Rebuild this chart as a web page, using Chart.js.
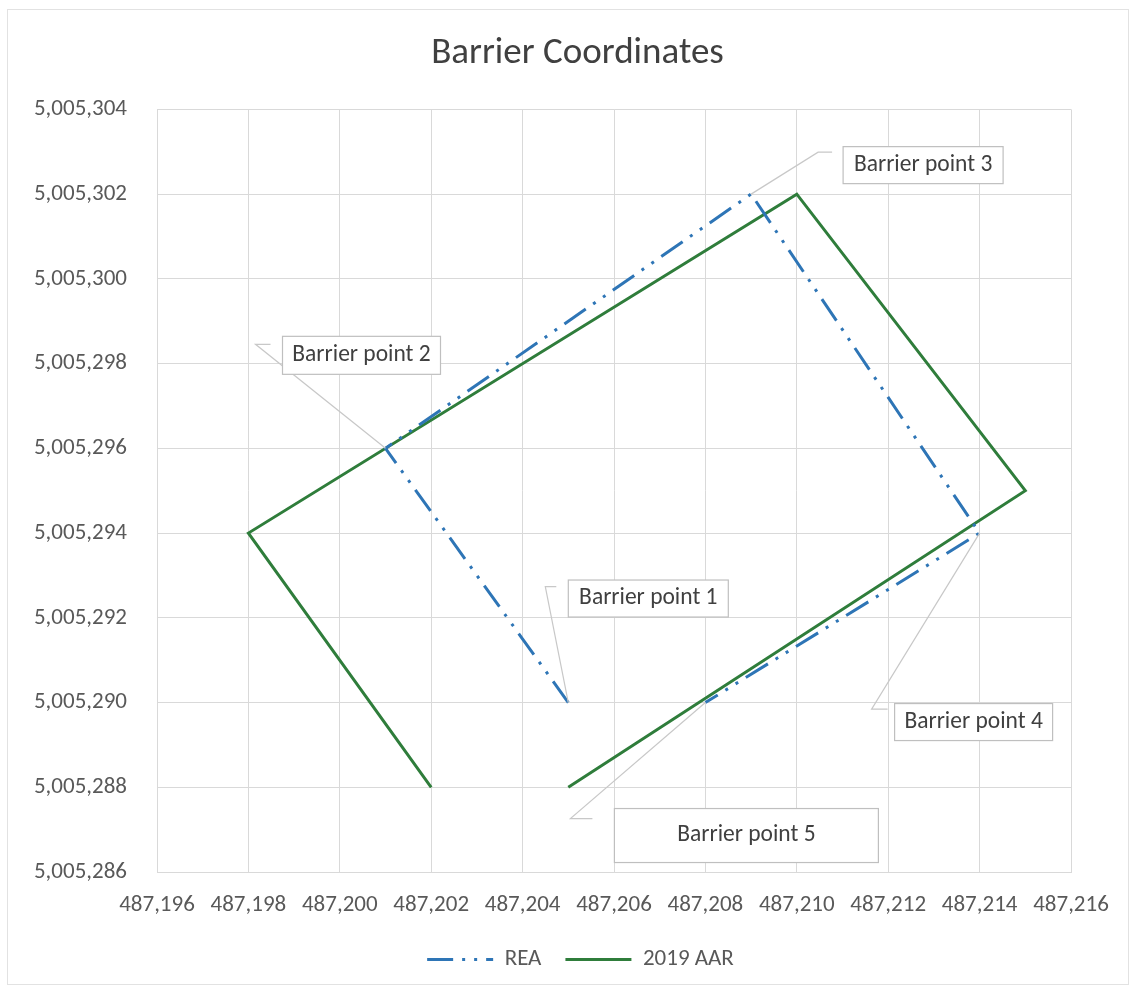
<!DOCTYPE html>
<html>
<head>
<meta charset="utf-8">
<script src="https://cdn.jsdelivr.net/npm/chart.js@4.4.1/dist/chart.umd.min.js"></script>
<style>
	body { margin: 0; background: #fff; }
	#wrap { width: 1135px; height: 990px; }
</style>
</head>
<body>
<div id="wrap"><canvas id="barrierChart" width="1135" height="990"></canvas></div>
<script>
// series data (easting, northing)
const reaX = [487205, 487201, 487209, 487214, 487208];
const reaY = [5005290, 5005296, 5005302, 5005294, 5005290];
const aarX = [487202, 487198, 487210, 487215, 487205];
const aarY = [5005288, 5005294, 5005302, 5005295, 5005288];

const xTicks = [487196, 487198, 487200, 487202, 487204, 487206, 487208, 487210, 487212, 487214, 487216];
const yTicks = [5005286, 5005288, 5005290, 5005292, 5005294, 5005296, 5005298, 5005300, 5005302, 5005304];

const pointLabels = ['Barrier point 1', 'Barrier point 2', 'Barrier point 3', 'Barrier point 4', 'Barrier point 5'];

// callout placement relative to the REA point (px): box centre, box size, leader elbow
const calloutLayout = [
	{ cx: 80, cy: -104, w: 160, h: 37, ex: -23, ey: -116, tx: -12 },
	{ cx: -24, cy: -93, w: 158, h: 38, ex: -130, ey: -104, tx: -115 },
	{ cx: 172, cy: -29, w: 160, h: 37, ex: 67, ey: -42, tx: 81 },
	{ cx: -6, cy: 189, w: 158, h: 37, ex: -108, ey: 176, tx: -92 },
	{ cx: 41, cy: 133, w: 264, h: 54, ex: -135, ey: 116, tx: -113 }
];

const toPoints = (xs, ys) => xs.map((x, i) => ({ x: x, y: ys[i] }));
const fmt = (v) => v.toLocaleString('en-US');

const FONT = "Carlito, Lato, 'Open Sans', sans-serif";

const calloutPlugin = {
	id: 'callouts',
	afterDatasetsDraw(chart) {
		let ctx = chart.ctx;
		let xs = chart.scales.x;
		let ys = chart.scales.y;
		ctx.save();
		pointLabels.forEach((txt, i) => {
			let px = xs.getPixelForValue(reaX[i]);
			let py = ys.getPixelForValue(reaY[i]);
			let c = calloutLayout[i];
			ctx.strokeStyle = '#C8C8C8';
			ctx.lineWidth = 1.2;
			ctx.setLineDash([]);
			ctx.beginPath();
			ctx.moveTo(px, py);
			ctx.lineTo(px + c.ex, py + c.ey);
			ctx.lineTo(px + c.tx, py + c.ey);
			ctx.stroke();
			let bx = px + c.cx - c.w / 2;
			let by = py + c.cy - c.h / 2;
			ctx.fillStyle = '#fff';
			ctx.fillRect(bx, by, c.w, c.h);
			ctx.strokeStyle = '#BFBFBF';
			ctx.strokeRect(bx, by, c.w, c.h);
			ctx.fillStyle = '#404040';
			ctx.font = '23.5px ' + FONT;
			ctx.textAlign = 'center';
			ctx.textBaseline = 'middle';
			ctx.fillText(txt, px + c.cx, py + c.cy);
		});
		ctx.restore();
	}
};

const framePlugin = {
	id: 'frame',
	// the original centres title and legend a bit right of the canvas middle
	afterLayout(chart) {
		if (chart.titleBlock) {
			chart.titleBlock.left += 37;
			chart.titleBlock.right += 37;
		}
		if (chart.legend) {
			chart.legend.left += 40;
			chart.legend.right += 40;
		}
	},
	beforeDraw(chart) {
		let ctx = chart.ctx;
		ctx.save();
		ctx.fillStyle = '#fff';
		ctx.fillRect(0, 0, chart.width, chart.height);
		ctx.strokeStyle = '#E2E2E2';
		ctx.lineWidth = 1;
		ctx.strokeRect(7.5, 9.5, 1121, 975);
		ctx.restore();
	}
};

const LoadBarrierChart = () => {
	let ctx = document.getElementById('barrierChart').getContext('2d');
	let myChart = new Chart(ctx, {
		type: 'scatter',
		data: {
			datasets: [
				{
					label: 'REA',
					data: toPoints(reaX, reaY),
					showLine: true,
					borderColor: '#2E75B6',
					backgroundColor: '#2E75B6',
					borderWidth: 3,
					borderDash: [26, 9, 3, 9, 3, 9],
					pointRadius: 0,
					tension: 0
				},
				{
					label: '2019 AAR',
					data: toPoints(aarX, aarY),
					showLine: true,
					borderColor: '#2F7D3B',
					backgroundColor: '#2F7D3B',
					borderWidth: 3,
					pointRadius: 0,
					tension: 0
				}
			]
		},
		options: {
			responsive: false,
			animation: false,
			layout: { padding: { left: 10, right: 64, top: 12, bottom: 9 } },
			scales: {
				x: {
					type: 'linear',
					min: xTicks[0],
					max: xTicks[xTicks.length - 1],
					afterBuildTicks: (s) => { s.ticks = xTicks.map((v) => ({ value: v })); },
					afterFit: (s) => { s.height = 52; },
					grid: { color: '#D9D9D9', lineWidth: 1, drawTicks: false },
					border: { color: '#D9D9D9' },
					ticks: {
						color: '#595959',
						font: { family: FONT, size: 23 },
						padding: 19,
						maxRotation: 0,
						callback: (v) => fmt(v)
					}
				},
				y: {
					type: 'linear',
					min: yTicks[0],
					max: yTicks[yTicks.length - 1],
					afterBuildTicks: (s) => { s.ticks = yTicks.map((v) => ({ value: v })); },
					afterFit: (s) => { s.width = 147; },
					grid: { color: '#D9D9D9', lineWidth: 1, drawTicks: false },
					border: { color: '#D9D9D9' },
					ticks: {
						color: '#595959',
						font: { family: FONT, size: 23 },
						padding: 30,
						callback: (v) => fmt(v)
					}
				}
			},
			plugins: {
				title: {
					display: true,
					text: 'Barrier Coordinates',
					color: '#404040',
					font: { family: FONT, size: 37, weight: 'normal' },
					padding: { top: 20, bottom: 33 }
				},
				legend: {
					position: 'bottom',
					labels: {
						usePointStyle: true,
						pointStyle: 'line',
						pointStyleWidth: 66,
						boxHeight: 3,
						color: '#595959',
						font: { family: FONT, size: 23 },
						padding: 24,
						generateLabels: (chart) => {
							let items = Chart.defaults.plugins.legend.labels.generateLabels(chart);
							items.forEach((item) => {
								let ds = chart.data.datasets[item.datasetIndex];
								item.lineDash = ds.borderDash || [];
								item.lineWidth = 3;
							});
							return items;
						}
					}
				},
				tooltip: { enabled: false }
			}
		},
		plugins: [framePlugin, calloutPlugin]
	});
};

LoadBarrierChart();
</script>
</body>
</html>
